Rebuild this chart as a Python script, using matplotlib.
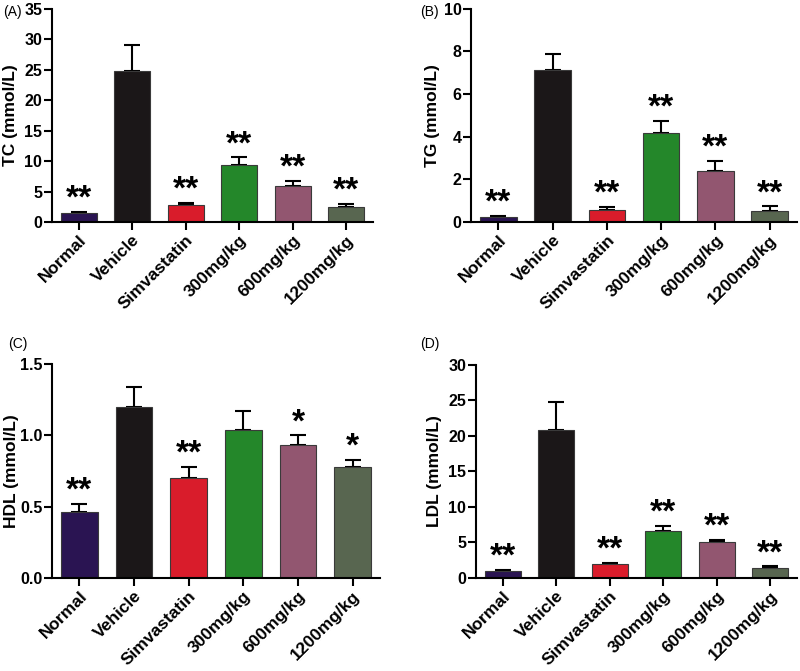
import matplotlib
matplotlib.use('Agg')
import matplotlib.pyplot as plt
import matplotlib.transforms as mtransforms
import numpy as np

plt.rcParams['font.family'] = ['Liberation Sans', 'DejaVu Sans']

groups = ['Normal', 'Vehicle', 'Simvastatin', '300mg/kg', '600mg/kg', '1200mg/kg']
colors = ['#2a1452', '#1b1718', '#d91c2b', '#24872a', '#925670', '#586650']

tc_mean = [1.45, 24.8, 2.75, 9.35, 5.95, 2.55]
tc_err = [0.2, 4.3, 0.45, 1.25, 0.85, 0.5]
tc_sig = ['**', '', '**', '**', '**', '**']

tg_mean = [0.22, 7.15, 0.55, 4.16, 2.39, 0.53]
tg_err = [0.06, 0.72, 0.17, 0.6, 0.49, 0.21]
tg_sig = ['**', '', '**', '**', '**', '**']

hdl_mean = [0.46, 1.20, 0.70, 1.04, 0.93, 0.78]
hdl_err = [0.06, 0.14, 0.08, 0.13, 0.07, 0.05]
hdl_sig = ['**', '', '**', '', '*', '*']

ldl_mean = [0.94, 20.85, 1.97, 6.6, 5.0, 1.4]
ldl_err = [0.16, 3.9, 0.19, 0.7, 0.4, 0.24]
ldl_sig = ['**', '', '**', '**', '**', '**']

# ylabel, values, errors, stars, ymax, yticks, format, axes rect, ylabel right edge (fig frac)
panels = [
    ('TC (mmol/L)', tc_mean, tc_err, tc_sig, 35, [0, 5, 10, 15, 20, 25, 30, 35], '{:.0f}',
     [0.065, 0.669, 0.401, 0.318], 0.023),
    ('TG (mmol/L)', tg_mean, tg_err, tg_sig, 10, [0, 2, 4, 6, 8, 10], '{:.0f}',
     [0.589, 0.669, 0.407, 0.318], 0.550),
    ('HDL (mmol/L)', hdl_mean, hdl_err, hdl_sig, 1.5, [0.0, 0.5, 1.0, 1.5], '{:.1f}',
     [0.065, 0.1386, 0.410, 0.319], 0.024),
    ('LDL (mmol/L)', ldl_mean, ldl_err, ldl_sig, 30, [0, 5, 10, 15, 20, 25, 30], '{:.0f}',
     [0.595, 0.1386, 0.401, 0.318], 0.552),
]

fig = plt.figure(figsize=(8, 6.71), dpi=100)
x = np.arange(len(groups))

for ylab, mean, err, sig, ymax, yt, fmt, pos, labx in panels:
    ax = fig.add_axes(pos)
    ax.bar(x, mean, width=0.67, color=colors, edgecolor='#3a3a3a', linewidth=0.8, zorder=2)
    ax.errorbar(x, mean, yerr=[np.zeros(len(mean)), err], fmt='none', ecolor='black',
                elinewidth=1.5, capsize=6, capthick=1.5, zorder=1)
    for xi, m, e, s in zip(x, mean, err, sig):
        if s:
            ax.annotate(s, (xi, m + e), xytext=(0, -2), textcoords='offset points',
                        ha='center', va='bottom', fontsize=24, fontweight='bold')
    ax.set_xlim(-0.5, 5.5)
    ax.set_ylim(0, ymax)
    ax.set_yticks(yt)
    ax.set_yticklabels([fmt.format(v) for v in yt])
    ax.set_xticks(x)
    ax.set_xticklabels(groups, rotation=45, ha='right', rotation_mode='anchor')
    for sp in ['top', 'right']:
        ax.spines[sp].set_visible(False)
    for sp in ['left', 'bottom']:
        ax.spines[sp].set_linewidth(1.5)
    ax.tick_params(axis='y', width=1.5, length=5.5, labelsize=11.5, pad=1.5)
    ax.tick_params(axis='x', width=1.5, length=5.5, labelsize=12.5, pad=2)
    for lab in ax.get_xticklabels() + ax.get_yticklabels():
        lab.set_fontweight('bold')
    ax.set_ylabel(ylab, fontsize=12.5, fontweight='bold')
    tr = mtransforms.blended_transform_factory(fig.transFigure, ax.transAxes)
    ax.yaxis.set_label_coords(labx, 0.5, transform=tr)

fig.text(0.004, 0.982, '(A)', fontsize=10, va='center')
fig.text(0.525, 0.982, '(B)', fontsize=10, va='center')
fig.text(0.010, 0.487, '(C)', fontsize=10, va='center')
fig.text(0.525, 0.487, '(D)', fontsize=10, va='center')

fig.savefig('out.png', dpi=100)
